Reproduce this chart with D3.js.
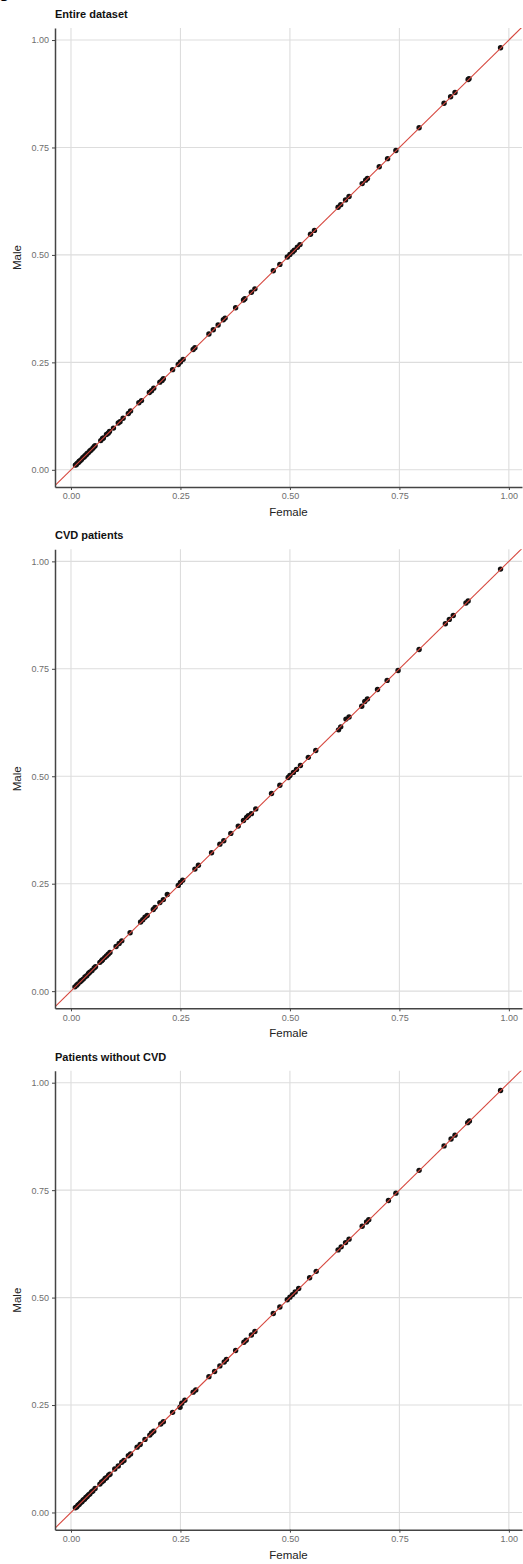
<!DOCTYPE html>
<html>
<head>
<meta charset="utf-8">
<script src="https://cdn.jsdelivr.net/npm/d3@7"></script>
<style>
  body { margin: 0; background: #fff; }
  svg { display: block; font-family: "Liberation Sans", Arial, Helvetica, sans-serif; }
</style>
</head>
<body>
<div id="chart"></div>
<script>
// panel titles and tick labels
const titles = ["Entire dataset", "CVD patients", "Patients without CVD"];
const ticks = [0, 0.25, 0.5, 0.75, 1];

// Entire dataset
const female1 = [0.010, 0.012, 0.014, 0.017, 0.019, 0.021, 0.024, 0.027, 0.030, 0.032, 0.035, 0.037, 0.040, 0.043, 0.046, 0.050, 0.053, 0.055, 0.068, 0.072, 0.074, 0.081, 0.085, 0.088, 0.097, 0.108, 0.112, 0.119, 0.131, 0.136, 0.155, 0.161, 0.179, 0.184, 0.189, 0.203, 0.208, 0.211, 0.232, 0.245, 0.250, 0.256, 0.279, 0.283, 0.315, 0.325, 0.336, 0.348, 0.352, 0.376, 0.394, 0.397, 0.412, 0.420, 0.462, 0.477, 0.494, 0.500, 0.506, 0.510, 0.517, 0.523, 0.547, 0.556, 0.610, 0.616, 0.627, 0.635, 0.665, 0.673, 0.677, 0.704, 0.723, 0.742, 0.795, 0.852, 0.867, 0.877, 0.907, 0.909, 0.981];
const male1 = [0.011, 0.012, 0.015, 0.017, 0.020, 0.021, 0.024, 0.028, 0.030, 0.033, 0.035, 0.038, 0.040, 0.044, 0.046, 0.050, 0.054, 0.056, 0.068, 0.073, 0.074, 0.082, 0.085, 0.089, 0.097, 0.109, 0.112, 0.120, 0.131, 0.137, 0.156, 0.161, 0.180, 0.184, 0.190, 0.204, 0.208, 0.212, 0.233, 0.245, 0.251, 0.257, 0.280, 0.284, 0.316, 0.326, 0.337, 0.349, 0.353, 0.377, 0.395, 0.398, 0.413, 0.421, 0.463, 0.478, 0.495, 0.501, 0.507, 0.511, 0.518, 0.524, 0.548, 0.557, 0.611, 0.617, 0.628, 0.636, 0.666, 0.674, 0.678, 0.705, 0.724, 0.743, 0.796, 0.853, 0.868, 0.878, 0.908, 0.910, 0.982];

// CVD patients
const female2 = [0.009, 0.013, 0.016, 0.021, 0.024, 0.028, 0.032, 0.036, 0.040, 0.043, 0.048, 0.053, 0.056, 0.066, 0.070, 0.072, 0.077, 0.081, 0.085, 0.089, 0.103, 0.110, 0.116, 0.135, 0.159, 0.164, 0.169, 0.174, 0.188, 0.192, 0.203, 0.211, 0.220, 0.245, 0.250, 0.255, 0.283, 0.291, 0.321, 0.340, 0.349, 0.365, 0.382, 0.394, 0.401, 0.405, 0.412, 0.422, 0.458, 0.477, 0.496, 0.500, 0.508, 0.515, 0.524, 0.542, 0.559, 0.611, 0.616, 0.628, 0.635, 0.664, 0.671, 0.677, 0.700, 0.722, 0.747, 0.795, 0.855, 0.864, 0.873, 0.902, 0.907, 0.981];
const male2 = [0.010, 0.014, 0.017, 0.022, 0.025, 0.028, 0.033, 0.036, 0.041, 0.044, 0.048, 0.054, 0.057, 0.067, 0.071, 0.073, 0.078, 0.082, 0.086, 0.090, 0.104, 0.111, 0.117, 0.136, 0.161, 0.166, 0.172, 0.176, 0.190, 0.195, 0.206, 0.213, 0.225, 0.246, 0.253, 0.258, 0.284, 0.293, 0.322, 0.342, 0.350, 0.367, 0.384, 0.397, 0.404, 0.408, 0.413, 0.424, 0.460, 0.479, 0.497, 0.502, 0.509, 0.516, 0.525, 0.544, 0.560, 0.608, 0.615, 0.633, 0.638, 0.663, 0.674, 0.680, 0.702, 0.723, 0.746, 0.795, 0.855, 0.865, 0.874, 0.903, 0.908, 0.982];

// Patients without CVD
const female3 = [0.010, 0.013, 0.016, 0.019, 0.022, 0.025, 0.028, 0.031, 0.034, 0.037, 0.040, 0.043, 0.047, 0.050, 0.055, 0.066, 0.070, 0.074, 0.078, 0.081, 0.086, 0.089, 0.100, 0.108, 0.116, 0.121, 0.131, 0.136, 0.151, 0.158, 0.169, 0.180, 0.184, 0.189, 0.205, 0.211, 0.232, 0.249, 0.253, 0.260, 0.279, 0.285, 0.315, 0.328, 0.340, 0.350, 0.355, 0.376, 0.395, 0.400, 0.412, 0.420, 0.462, 0.477, 0.494, 0.500, 0.506, 0.512, 0.520, 0.545, 0.560, 0.610, 0.617, 0.627, 0.635, 0.665, 0.675, 0.680, 0.725, 0.742, 0.795, 0.852, 0.868, 0.877, 0.906, 0.910, 0.981];
const male3 = [0.011, 0.013, 0.017, 0.019, 0.023, 0.025, 0.029, 0.031, 0.035, 0.037, 0.041, 0.043, 0.048, 0.050, 0.056, 0.066, 0.071, 0.074, 0.079, 0.081, 0.087, 0.089, 0.101, 0.108, 0.117, 0.121, 0.132, 0.136, 0.152, 0.158, 0.170, 0.180, 0.185, 0.189, 0.206, 0.211, 0.233, 0.245, 0.254, 0.261, 0.280, 0.285, 0.316, 0.328, 0.341, 0.350, 0.356, 0.377, 0.396, 0.401, 0.413, 0.421, 0.463, 0.478, 0.495, 0.501, 0.507, 0.513, 0.521, 0.546, 0.561, 0.611, 0.618, 0.628, 0.636, 0.666, 0.676, 0.681, 0.726, 0.743, 0.796, 0.853, 0.869, 0.878, 0.907, 0.911, 0.982];

const females = [female1, female2, female3];
const males = [male1, male2, male3];

const W = 523, H = 1564;
const panelH = H / 3;
const plot = {left: 55, right: 522, top: 28, bottom: 487};

const svg = d3.select("#chart").append("svg")
    .attr("width", W)
    .attr("height", H);

// cut-off figure letter at the very top-left
svg.append("text")
    .attr("x", -1)
    .attr("y", -2)
    .style("font-size", "17px")
    .style("font-weight", "bold")
    .text("g");

const x = d3.scaleLinear().domain([-0.0365, 1.03]).range([plot.left, plot.right]);
const y = d3.scaleLinear().domain([-0.04, 1.028]).range([plot.bottom, plot.top]);

titles.forEach((title, i) => {
    const g = svg.append("g").attr("transform", `translate(0,${i * panelH})`);

    g.append("defs").append("clipPath")
        .attr("id", "clip" + i)
        .append("rect")
            .attr("x", plot.left)
            .attr("y", plot.top)
            .attr("width", plot.right - plot.left)
            .attr("height", plot.bottom - plot.top);

    // grid
    g.append("g").selectAll("line")
        .data(ticks)
        .enter().append("line")
            .attr("x1", d => x(d)).attr("x2", d => x(d))
            .attr("y1", plot.top).attr("y2", plot.bottom)
            .attr("stroke", "#dddddd").attr("stroke-width", 1.1);
    g.append("g").selectAll("line")
        .data(ticks)
        .enter().append("line")
            .attr("y1", d => y(d)).attr("y2", d => y(d))
            .attr("x1", plot.left).attr("x2", plot.right)
            .attr("stroke", "#dddddd").attr("stroke-width", 1.1);

    // points
    const pts = females[i].map((f, j) => [f, males[i][j]]);
    g.append("g").attr("clip-path", `url(#clip${i})`)
        .selectAll("circle")
        .data(pts)
        .enter().append("circle")
            .attr("cx", d => x(d[0]))
            .attr("cy", d => y(d[1]))
            .attr("r", 2.7)
            .attr("fill", "#111");

    // identity line
    g.append("line")
        .attr("clip-path", `url(#clip${i})`)
        .attr("x1", x(-0.05)).attr("y1", y(-0.05))
        .attr("x2", x(1.05)).attr("y2", y(1.05))
        .attr("stroke", "#d6473e")
        .attr("stroke-width", 1.1);

    // axes
    const xAxis = d3.axisBottom(x).tickValues(ticks).tickFormat(d3.format(".2f")).tickSize(3).tickSizeOuter(0);
    const yAxis = d3.axisLeft(y).tickValues(ticks).tickFormat(d3.format(".2f")).tickSize(3).tickSizeOuter(0);

    const gx = g.append("g").attr("transform", `translate(0,${plot.bottom})`).call(xAxis);
    const gy = g.append("g").attr("transform", `translate(${plot.left},0)`).call(yAxis);
    [gx, gy].forEach(a => {
        a.select(".domain").attr("stroke", "#444").attr("stroke-width", 1.5);
        a.selectAll(".tick line").attr("stroke", "#444");
        a.selectAll(".tick text")
            .attr("fill", "#6e6e6e")
            .style("font-size", "9px")
            .style("font-family", "Liberation Sans, Arial, sans-serif");
    });
    gx.selectAll(".tick text").attr("dy", "0.71em").attr("y", 6);
    gy.selectAll(".tick text").attr("x", -6);

    // title
    g.append("text")
        .attr("x", plot.left)
        .attr("y", 18)
        .style("font-size", "11px")
        .style("font-weight", "bold")
        .attr("fill", "#111")
        .text(title);

    // axis titles
    g.append("text")
        .attr("x", (plot.left + plot.right) / 2)
        .attr("y", 516)
        .attr("text-anchor", "middle")
        .style("font-size", "11.5px")
        .attr("fill", "#222")
        .text("Female");
    g.append("text")
        .attr("transform", `translate(21,${(plot.top + plot.bottom) / 2}) rotate(-90)`)
        .attr("text-anchor", "middle")
        .style("font-size", "11.5px")
        .attr("fill", "#222")
        .text("Male");
});
</script>
</body>
</html>
